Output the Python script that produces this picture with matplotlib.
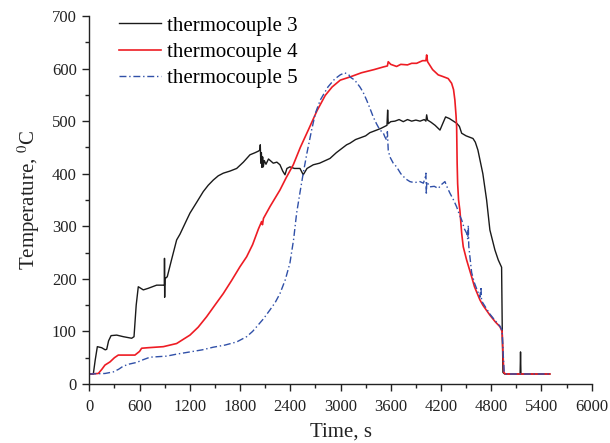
import matplotlib
matplotlib.use("Agg")
import matplotlib.pyplot as plt
from matplotlib.ticker import MultipleLocator

plt.rcParams['font.family'] = ['Liberation Serif', 'DejaVu Serif']
plt.rcParams['mathtext.fontset'] = 'stix'

# thermocouple 3 (black)
tc3 = [(0,19),(48,19),(70,45),(96,71),(148,69),(190,65),(208,66),(230,82),(260,92),(327,93),(406,90),(506,87),(534,90),(560,150),(585,185),(615,182),(645,179),(704,182),(804,188),(884,188),(897,188),(898,239),(900,165),(902,200),(931,204),(980,235),(1043,274),(1083,285),(1163,312),(1202,325),(1280,345),(1361,366),(1420,378),(1481,388),(1540,396),(1600,401),(1680,405),(1760,410),(1840,422),(1919,436),(1980,440),(2020,443),(2038,445),(2042,455),(2048,420),(2055,440),(2062,412),(2070,432),(2078,413),(2090,425),(2110,418),(2140,428),(2197,420),(2240,422),(2277,417),(2310,405),(2337,398),(2360,410),(2396,413),(2450,410),(2516,410),(2555,398),(2600,410),(2675,417),(2750,420),(2874,429),(2950,440),(3073,455),(3113,458),(3180,465),(3232,468),(3300,472),(3350,478),(3432,483),(3480,486),(3530,490),(3555,492),(3563,521),(3570,495),(3600,499),(3650,500),(3700,503),(3750,499),(3800,503),(3850,500),(3900,502),(3950,500),(4000,503),(4020,500),(4029,512),(4040,502),(4080,498),(4130,492),(4188,483),(4220,495),(4255,508),(4300,505),(4387,496),(4420,490),(4447,477),(4500,472),(4582,467),(4610,460),(4641,445),(4700,400),(4745,350),(4784,293),(4844,255),(4884,236),(4924,222),(4932,100),(4940,22),(4960,19),(5000,19),(5145,19),(5150,61),(5155,19),(5300,19),(5500,19)]

# thermocouple 4 (red)
tc4 = [(0,19),(108,20),(150,28),(187,36),(247,42),(300,50),(346,55),(545,55),(600,62),(625,68),(700,69),(884,71),(1043,77),(1202,93),(1300,108),(1401,128),(1500,150),(1600,172),(1700,197),(1799,223),(1879,242),(1950,265),(2020,295),(2058,309),(2068,303),(2080,315),(2160,338),(2277,369),(2350,392),(2436,417),(2520,450),(2615,483),(2720,520),(2818,549),(2900,565),(2997,578),(3113,584),(3250,592),(3400,598),(3510,603),(3560,605),(3570,613),(3600,608),(3670,604),(3720,608),(3800,607),(3850,610),(3909,610),(3980,615),(4020,615),(4029,626),(4040,613),(4100,598),(4167,588),(4220,585),(4286,581),(4327,572),(4350,560),(4366,540),(4380,510),(4387,489),(4393,420),(4399,381),(4410,350),(4426,330),(4447,287),(4466,261),(4506,236),(4566,204),(4600,185),(4665,160),(4700,150),(4784,131),(4850,118),(4904,109),(4930,100),(4940,60),(4950,22),(4970,19),(5500,19)]

# thermocouple 5 (blue)
tc5 = [(0,19),(187,20),(287,23),(350,28),(406,34),(480,38),(565,41),(640,46),(725,51),(924,53),(1050,57),(1202,61),(1350,65),(1481,70),(1620,74),(1760,80),(1879,90),(1950,100),(1999,109),(2080,124),(2158,141),(2220,155),(2277,172),(2340,198),(2396,230),(2440,275),(2476,325),(2520,368),(2555,401),(2600,440),(2655,483),(2700,515),(2758,540),(2850,565),(2930,580),(2997,588),(3050,592),(3100,588),(3113,584),(3170,578),(3232,565),(3270,555),(3312,540),(3350,525),(3391,508),(3430,495),(3471,483),(3510,478),(3530,470),(3551,464),(3560,480),(3570,445),(3590,432),(3630,420),(3670,413),(3720,400),(3780,390),(3829,385),(3880,383),(3948,385),(3990,382),(4010,392),(4020,401),(4025,360),(4030,385),(4068,375),(4120,376),(4167,372),(4210,380),(4247,385),(4280,372),(4307,363),(4350,350),(4387,337),(4420,322),(4447,312),(4480,295),(4506,287),(4520,275),(4526,302),(4532,262),(4566,212),(4600,192),(4665,165),(4677,185),(4685,158),(4784,133),(4850,120),(4904,110),(4930,102),(4942,60),(4955,22),(4975,19),(5500,19)]

labels = ["thermocouple 3", "thermocouple 4", "thermocouple 5"]
xticks = [0, 600, 1200, 1800, 2400, 3000, 3600, 4200, 4800, 5400, 6000]
yticks = [0, 100, 200, 300, 400, 500, 600, 700]

fig = plt.figure(figsize=(6.1, 4.43), dpi=100)
ax = fig.add_axes([0.1464, 0.1332, 0.8236, 0.8307])

def xy(pairs):
    return [p[0] for p in pairs], [p[1] for p in pairs]

x3, y3 = xy(tc3)
x4, y4 = xy(tc4)
x5, y5 = xy(tc5)
l3, = ax.plot(x3, y3, color='#1a1a1a', lw=1.0, label=labels[0])
l4, = ax.plot(x4, y4, color='#ee1c24', lw=1.2, label=labels[1])
l5, = ax.plot(x5, y5, color='#3050a8', lw=1.0, dashes=(5, 2, 1, 2), label=labels[2])

ax.set_xlim(0, 6000)
ax.set_ylim(0, 700)
ax.set_xticks(xticks)
ax.set_yticks(yticks)
ax.xaxis.set_minor_locator(MultipleLocator(300))
ax.yaxis.set_minor_locator(MultipleLocator(50))
ax.tick_params(axis='both', which='major', direction='out', length=5, width=1.0,
               labelsize=12, colors='#222222')
ax.tick_params(axis='x', which='major', pad=6)
ax.tick_params(axis='y', which='major', pad=4)
ax.tick_params(axis='both', which='minor', direction='out', length=3, width=1.0, colors='#222222')
for s in ['top', 'right']:
    ax.spines[s].set_visible(False)
for s in ['left', 'bottom']:
    ax.spines[s].set_linewidth(1.0)
    ax.spines[s].set_color('#222222')

ax.set_xlabel("Time, s", fontsize=15, color='#222222', labelpad=5)
ax.set_ylabel("Temperature, $^{0}$C", fontsize=15, color='#222222', labelpad=7)

ax.legend(handles=[l3, l4, l5], loc='upper left', bbox_to_anchor=(0.06, 1.0),
          frameon=False, fontsize=15, handlelength=2.0, handletextpad=0.3,
          labelspacing=0.32, borderpad=0, borderaxespad=0)

fig.savefig("out.png", dpi=100)
